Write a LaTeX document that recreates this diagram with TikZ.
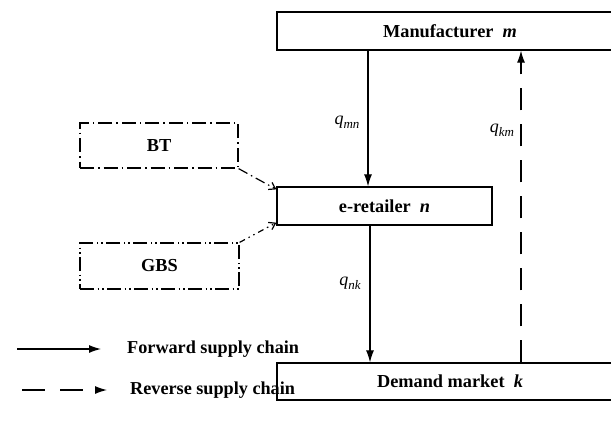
\documentclass[tikz,border=0pt]{standalone}
\usepackage{fontspec}
\setmainfont{Liberation Serif}
\usetikzlibrary{arrows.meta}
\newcommand\qlab[1]{{\fontsize{18}{19}\selectfont\itshape q}\raisebox{-4pt}{\fontsize{13}{14}\selectfont\itshape #1}}
\tikzset{
  box/.style={draw, line width=1.3pt, rectangle, inner sep=0pt, font=\fontsize{18.3}{21}\selectfont\bfseries},
  dashdotbox/.style={box, dash pattern=on 14pt off 4pt on 1.5pt off 4pt},
  dashdotdotbox/.style={box, dash pattern=on 14pt off 3.5pt on 1.5pt off 3pt on 1.5pt off 3.5pt},
  fwd/.style={line width=1.2pt, -{Latex[length=12pt,width=8pt]}},
  rev/.style={line width=1.2pt, dash pattern=on 22pt off 14pt, -{Latex[length=12pt,width=8pt]}},
  thin arrow/.style={line width=1.2pt, -{Straight Barb[length=6pt,width=8pt]}},
  lab/.style={inner sep=0pt},
  legtext/.style={anchor=west, inner sep=0pt, font=\fontsize{18.2}{21}\selectfont\bfseries}
}
\begin{document}
\begin{tikzpicture}[x=1pt,y=-1pt]
\useasboundingbox (0,0) rectangle (611,421);
\clip (0,0) rectangle (611,421);
% main boxes
\node[box, minimum width=346pt, minimum height=38pt] (manu) at (450,31) {Manufacturer\ \ \textit{m}};
\node[box, minimum width=215pt, minimum height=38pt] (eret) at (384.5,206) {e-retailer\ \ \textit{n}};
\node[box, minimum width=346pt, minimum height=37pt] (dem) at (450,381.5) {Demand market\ \ \textit{k}};
% side boxes
\node[dashdotbox, minimum width=158pt, minimum height=45pt] (bt) at (159,145.5) {BT};
\node[dashdotdotbox, minimum width=159pt, minimum height=46pt] (gbs) at (159.5,266) {GBS};
% x positions of vertical arrows
\coordinate (xmn) at (368,0);
\coordinate (xnk) at (370,0);
\coordinate (xkm) at (521,0);
\draw[fwd] (manu.south -| xmn) -- (eret.north -| xmn);
\draw[fwd] (eret.south -| xnk) -- (dem.north -| xnk);
\draw[rev] (dem.north -| xkm) -- (manu.south -| xkm);
% flow labels
\node[lab] (lmn) at (347,122) {\qlab{mn}};
\node[lab] (lnk) at (350,283) {\qlab{nk}};
\node[lab] (lkm) at (502,130) {\qlab{km}};
% side connectors
\coordinate (btin) at ([yshift=-3pt]eret.north west);
\coordinate (gbsin) at ([yshift=3pt]eret.south west);
\draw[thin arrow, dash pattern=on 10pt off 4pt on 1.5pt off 4pt] (bt.south east) -- (btin);
\draw[thin arrow, dash pattern=on 6pt off 4pt on 1.5pt off 4pt on 1.5pt off 4pt] (gbs.north east) -- (gbsin);
% legend
\coordinate (f1) at (17,349);
\coordinate (f2) at (101,349);
\coordinate (r1) at (22,390);
\coordinate (r2) at (107,390);
\draw[fwd] (f1) -- (f2);
\draw[line width=1.2pt, dash pattern=on 23pt off 15pt, -{Latex[length=12pt,width=8pt]}] (r1) -- (r2);
\node[legtext] (ft) at (127,349) {Forward supply chain};
\node[legtext] (rt) at (130,390) {Reverse supply chain};
\end{tikzpicture}
\end{document}
